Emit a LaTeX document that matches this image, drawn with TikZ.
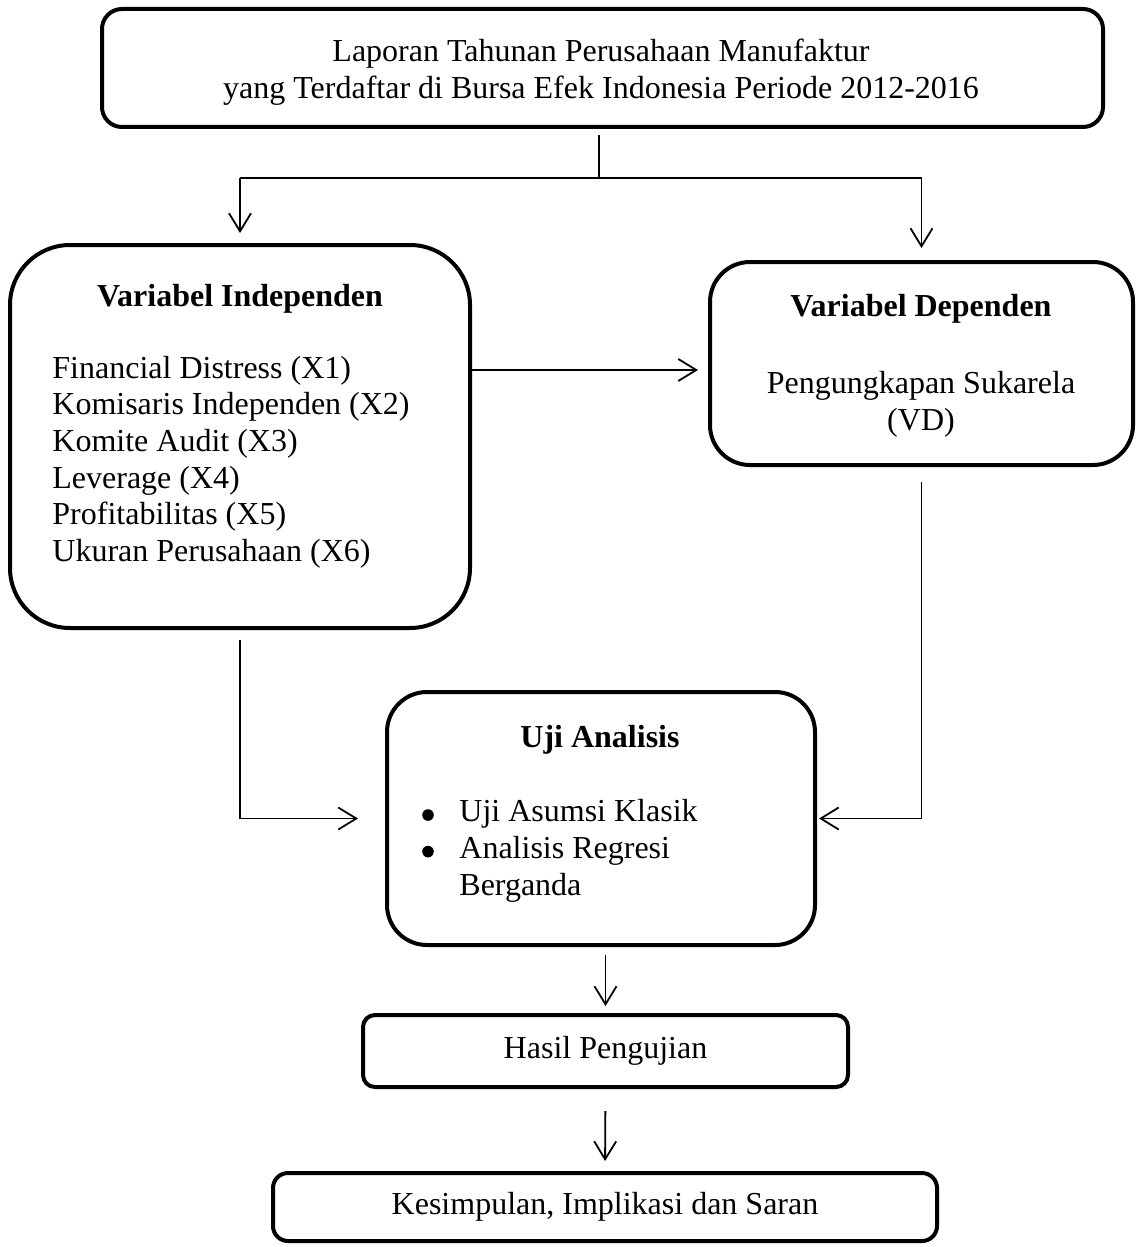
\documentclass[tikz,border=0pt]{standalone}
\usepackage{fontspec}
\setmainfont{Liberation Serif}
\usetikzlibrary{arrows.meta}
\tikzstyle{roundbox}=[draw, line width=2pt, inner sep=0pt]
\tikzstyle{txt}=[inner sep=0pt]
\tikzstyle{link}=[line width=0.9pt]
\tikzstyle{flow}=[link, -{Straight Barb[length=9pt,width=11pt]}]
\begin{document}
\begin{tikzpicture}[x=0.5pt,y=-0.5pt,font=\fontsize{16}{18.5}\selectfont]
\useasboundingbox (0,0) rectangle (1136,1247);
% boxes
\node[roundbox, rounded corners=10pt, minimum width=500.5pt, minimum height=59pt] (laporan) at (602.5,68) {};
\node[roundbox, rounded corners=30pt, minimum width=230pt, minimum height=191.5pt] (indep) at (240,436.5) {};
\node[roundbox, rounded corners=20pt, minimum width=211.5pt, minimum height=101.5pt] (dep) at (921.5,363.5) {};
\node[roundbox, rounded corners=20pt, minimum width=214pt, minimum height=126.5pt] (uji) at (601,818.5) {};
\node[roundbox, rounded corners=6pt, minimum width=242.5pt, minimum height=36pt] (hasil) at (605.5,1051) {Hasil Pengujian};
\node[roundbox, rounded corners=7.5pt, minimum width=332pt, minimum height=34pt] (kesimpulan) at (605,1207) {Kesimpulan, Implikasi dan Saran};

% texts
\node[txt, anchor=base] (laporanA) at (601,62) {Laporan Tahunan Perusahaan Manufaktur};
\node[txt, anchor=base] (laporanB) at (601,99) {yang Terdaftar di Bursa Efek Indonesia Periode 2012-2016};
\node[txt, anchor=base] (indepTitle) at (240,306) {\bfseries Variabel Independen};
\foreach \var [count=\i from 0] in {Financial Distress (X1), Komisaris Independen (X2), Komite Audit (X3), Leverage (X4), Profitabilitas (X5), Ukuran Perusahaan (X6)}
  \node[txt, anchor=base west] (indepVar\i) at (52,{378+36.7*\i}) {\var};
\node[txt, anchor=base] (depTitle) at (921,316) {\bfseries Variabel Dependen};
\node[txt, anchor=base] (depVarA) at (921,393) {Pengungkapan Sukarela};
\node[txt, anchor=base] (depVarB) at (921,430) {(VD)};
\node[txt, anchor=base] (ujiTitle) at (600,747) {\bfseries Uji Analisis};
\node[txt, anchor=base west] (ujiA) at (459,821.7) {Uji Asumsi Klasik};
\node[txt, anchor=base west] (ujiB) at (459,858.3) {Analisis Regresi};
\node[txt, anchor=base west] (ujiC) at (459,895) {Berganda};
% list bullets
\foreach \y in {815,851.6}
  \fill (428,\y) circle (2.9pt);

% connectors
\coordinate (split) at (599,178);
\draw[link, shorten <=3pt] (laporan.south -| split) -- (split);
\draw[link] (indep.north |- split) -- (dep.north |- split);
\draw[flow, shorten >=5pt] (indep.north |- split) -- (indep.north);
\draw[flow, shorten >=6pt] (dep.north |- split) -- (dep.north);
\draw[flow, shorten >=5pt] ([yshift=-3.25pt]dep.west -| indep.east) -- ([yshift=-3.25pt]dep.west);
\draw[flow, shorten <=5pt, shorten >=13.5pt] (indep.south) |- (uji.west);
\draw[flow, shorten <=7.5pt, shorten >=1pt] (dep.south) |- (uji.east);
\draw[flow, shorten <=4pt, shorten >=3.5pt] (hasil.north |- uji.south) -- (hasil.north);
\draw[flow, shorten <=11pt, shorten >=5pt] (hasil.south) -- (kesimpulan.north);
\end{tikzpicture}
\end{document}
